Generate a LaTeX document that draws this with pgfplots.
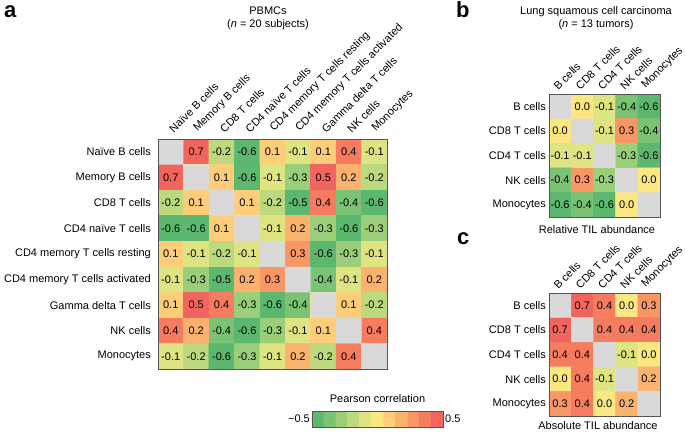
\documentclass[border=0pt]{standalone}
\usepackage{pgfplots}
\pgfplotsset{compat=1.18}
\usepackage{pgfplotstable}
\usepackage{fontspec}
\setmainfont{Liberation Sans}

\definecolor{framegray}{RGB}{85,85,85}
\definecolor{diaggray}{RGB}{217,217,217}
\newcommand\lab{\fontsize{11}{13}\selectfont}
\newcommand\panel{\fontsize{22}{22}\selectfont\bfseries}

\pgfplotsset{
  colormap={corr}{rgb255=(92,184,110) rgb255=(122,195,116) rgb255=(155,206,121)
    rgb255=(188,217,126) rgb255=(222,228,130) rgb255=(253,231,130) rgb255=(253,205,121)
    rgb255=(251,178,110) rgb255=(249,150,101) rgb255=(246,124,96) rgb255=(242,101,94)},
  heat/.style={
    scale only axis, axis on top, enlargelimits=false,
    colormap name=corr, point meta min=-0.5, point meta max=0.5,
    axis line style={framegray, line width=0.9pt},
    major tick length=0pt, tick style={draw=none},
    xticklabel pos=upper,
    tick label style={font=\lab},
    x tick label style={rotate=45, anchor=south west, inner sep=0pt},
    y tick label style={anchor=east, inner sep=0pt},
  },
  heatcells/.style={matrix plot*, mesh/cols=#1, point meta=explicit},
  celltext/.style={draw=none, mark=none, forget plot,
    point meta=explicit symbolic, nodes near coords,
    nodes near coords style={anchor=center, font=\lab, inner sep=0pt}},
}

% PBMCs, row 1 (Naive B cells) at y=9
\pgfplotstableread[row sep=\\]{
x y c l\\
1 9 0 {}\\ 2 9 0.7 0.7\\ 3 9 -0.2 -0.2\\ 4 9 -0.6 -0.6\\ 5 9 0.1 0.1\\ 6 9 -0.1 -0.1\\ 7 9 0.1 0.1\\ 8 9 0.4 0.4\\ 9 9 -0.1 -0.1\\
1 8 0.7 0.7\\ 2 8 0 {}\\ 3 8 0.1 0.1\\ 4 8 -0.6 -0.6\\ 5 8 -0.1 -0.1\\ 6 8 -0.3 -0.3\\ 7 8 0.5 0.5\\ 8 8 0.2 0.2\\ 9 8 -0.2 -0.2\\
1 7 -0.2 -0.2\\ 2 7 0.1 0.1\\ 3 7 0 {}\\ 4 7 0.1 0.1\\ 5 7 -0.2 -0.2\\ 6 7 -0.5 -0.5\\ 7 7 0.4 0.4\\ 8 7 -0.4 -0.4\\ 9 7 -0.6 -0.6\\
1 6 -0.6 -0.6\\ 2 6 -0.6 -0.6\\ 3 6 0.1 0.1\\ 4 6 0 {}\\ 5 6 -0.1 -0.1\\ 6 6 0.2 0.2\\ 7 6 -0.3 -0.3\\ 8 6 -0.6 -0.6\\ 9 6 -0.3 -0.3\\
1 5 0.1 0.1\\ 2 5 -0.1 -0.1\\ 3 5 -0.2 -0.2\\ 4 5 -0.1 -0.1\\ 5 5 0 {}\\ 6 5 0.3 0.3\\ 7 5 -0.6 -0.6\\ 8 5 -0.3 -0.3\\ 9 5 -0.1 -0.1\\
1 4 -0.1 -0.1\\ 2 4 -0.3 -0.3\\ 3 4 -0.5 -0.5\\ 4 4 0.2 0.2\\ 5 4 0.3 0.3\\ 6 4 0 {}\\ 7 4 -0.4 -0.4\\ 8 4 -0.1 -0.1\\ 9 4 0.2 0.2\\
1 3 0.1 0.1\\ 2 3 0.5 0.5\\ 3 3 0.4 0.4\\ 4 3 -0.3 -0.3\\ 5 3 -0.6 -0.6\\ 6 3 -0.4 -0.4\\ 7 3 0 {}\\ 8 3 0.1 0.1\\ 9 3 -0.2 -0.2\\
1 2 0.4 0.4\\ 2 2 0.2 0.2\\ 3 2 -0.4 -0.4\\ 4 2 -0.6 -0.6\\ 5 2 -0.3 -0.3\\ 6 2 -0.1 -0.1\\ 7 2 0.1 0.1\\ 8 2 0 {}\\ 9 2 0.4 0.4\\
1 1 -0.1 -0.1\\ 2 1 -0.2 -0.2\\ 3 1 -0.6 -0.6\\ 4 1 -0.3 -0.3\\ 5 1 -0.1 -0.1\\ 6 1 0.2 0.2\\ 7 1 -0.2 -0.2\\ 8 1 0.4 0.4\\ 9 1 0 {}\\
}\pbmc

% lung SCC, relative TIL abundance
\pgfplotstableread[row sep=\\]{
x y c l\\
1 5 0 {}\\ 2 5 0.0 0.0\\ 3 5 -0.1 -0.1\\ 4 5 -0.4 -0.4\\ 5 5 -0.6 -0.6\\
1 4 0.0 0.0\\ 2 4 0 {}\\ 3 4 -0.1 -0.1\\ 4 4 0.3 0.3\\ 5 4 -0.4 -0.4\\
1 3 -0.1 -0.1\\ 2 3 -0.1 -0.1\\ 3 3 0 {}\\ 4 3 -0.3 -0.3\\ 5 3 -0.6 -0.6\\
1 2 -0.4 -0.4\\ 2 2 0.3 0.3\\ 3 2 -0.3 -0.3\\ 4 2 0 {}\\ 5 2 0.0 0.0\\
1 1 -0.6 -0.6\\ 2 1 -0.4 -0.4\\ 3 1 -0.6 -0.6\\ 4 1 0.0 0.0\\ 5 1 0 {}\\
}\relTIL

% lung SCC, absolute TIL abundance
\pgfplotstableread[row sep=\\]{
x y c l\\
1 5 0 {}\\ 2 5 0.7 0.7\\ 3 5 0.4 0.4\\ 4 5 0.0 0.0\\ 5 5 0.3 0.3\\
1 4 0.7 0.7\\ 2 4 0 {}\\ 3 4 0.4 0.4\\ 4 4 0.4 0.4\\ 5 4 0.4 0.4\\
1 3 0.4 0.4\\ 2 3 0.4 0.4\\ 3 3 0 {}\\ 4 3 -0.1 -0.1\\ 5 3 0.0 0.0\\
1 2 0.0 0.0\\ 2 2 0.4 0.4\\ 3 2 -0.1 -0.1\\ 4 2 0 {}\\ 5 2 0.2 0.2\\
1 1 0.3 0.3\\ 2 1 0.4 0.4\\ 3 1 0.0 0.0\\ 4 1 0.2 0.2\\ 5 1 0 {}\\
}\absTIL

% colour key: eleven steps from -0.5 to 0.5 (two rows so the cells have a height)
\pgfplotstableread[row sep=\\]{
x y c\\
1 1 -0.5\\ 2 1 -0.4\\ 3 1 -0.3\\ 4 1 -0.2\\ 5 1 -0.1\\ 6 1 0.0\\ 7 1 0.1\\ 8 1 0.2\\ 9 1 0.3\\ 10 1 0.4\\ 11 1 0.5\\
1 2 -0.5\\ 2 2 -0.4\\ 3 2 -0.3\\ 4 2 -0.2\\ 5 2 -0.1\\ 6 2 0.0\\ 7 2 0.1\\ 8 2 0.2\\ 9 2 0.3\\ 10 2 0.4\\ 11 2 0.5\\
}\key

\begin{document}
\begin{tikzpicture}
\useasboundingbox (0,0) rectangle (685pt,-432pt);

% ---- a: PBMCs
\begin{axis}[heat, at={(158pt,-369pt)}, anchor=south west,
  width=229pt, height=230pt,
  xmin=0.5, xmax=9.5, ymin=0.5, ymax=9.5,
  xtick={1,...,9}, ytick={1,...,9},
  xticklabels={Naïve B cells, Memory B cells, CD8 T cells, CD4 naïve T cells,
    CD4 memory T cells resting, CD4 memory T cells activated, Gamma delta T cells,
    NK cells, Monocytes},
  yticklabels={Monocytes, NK cells, Gamma delta T cells, CD4 memory T cells activated,
    CD4 memory T cells resting, CD4 naïve T cells, CD8 T cells, Memory B cells,
    Naïve B cells},
  x tick label style={xshift=6pt, yshift=1.5pt},
  y tick label style={xshift=-7pt},
]
\addplot[heatcells=9] table[x=x, y=y, meta=c] {\pbmc};
% diagonal (self-correlation) cells in grey
\addplot[fill=diaggray, draw=none, forget plot] coordinates {
  (0.5,9.5) (1.5,9.5) (1.5,8.5) (2.5,8.5) (2.5,7.5) (3.5,7.5) (3.5,6.5) (4.5,6.5)
  (4.5,5.5) (5.5,5.5) (5.5,4.5) (6.5,4.5) (6.5,3.5) (7.5,3.5) (7.5,2.5) (8.5,2.5)
  (8.5,1.5) (9.5,1.5) (9.5,0.5) (8.5,0.5) (8.5,1.5) (7.5,1.5) (7.5,2.5) (6.5,2.5)
  (6.5,3.5) (5.5,3.5) (5.5,4.5) (4.5,4.5) (4.5,5.5) (3.5,5.5) (3.5,6.5) (2.5,6.5)
  (2.5,7.5) (1.5,7.5) (1.5,8.5) (0.5,8.5) (0.5,9.5)};
\addplot[celltext] table[x=x, y=y, meta=l] {\pbmc};
\end{axis}

% ---- colour key
\begin{axis}[heat, at={(312pt,-427pt)}, anchor=south west,
  width=131pt, height=16pt,
  xmin=0.5, xmax=11.5, ymin=0.5, ymax=2.5,
  xtick=\empty, ytick=\empty,
  axis line style={framegray, line width=0.7pt},
  title={Pearson correlation},
  title style={font=\lab, at={(0.5,1)}, anchor=base, yshift=2.5pt},
  extra description/.code={
    \node[anchor=east, font=\lab, inner sep=2pt] at (rel axis cs:0,0.5) {−0.5};
    \node[anchor=west, font=\lab, inner sep=2pt] at (rel axis cs:1,0.5) {0.5};
  },
]
\addplot[heatcells=11] table[x=x, y=y, meta=c] {\key};
\end{axis}

% ---- b: relative TIL abundance
\begin{axis}[heat, at={(549pt,-217pt)}, anchor=south west,
  width=111pt, height=123pt,
  xmin=0.5, xmax=5.5, ymin=0.5, ymax=5.5,
  xtick={1,...,5}, ytick={1,...,5},
  xticklabels={B cells, CD8 T cells, CD4 T cells, NK cells, Monocytes},
  yticklabels={Monocytes, NK cells, CD4 T cells, CD8 T cells, B cells},
  x tick label style={xshift=1pt, yshift=3.5pt},
  y tick label style={xshift=-3pt},
]
\addplot[heatcells=5] table[x=x, y=y, meta=c] {\relTIL};
\addplot[fill=diaggray, draw=none, forget plot] coordinates {
  (0.5,5.5) (1.5,5.5) (1.5,4.5) (2.5,4.5) (2.5,3.5) (3.5,3.5) (3.5,2.5) (4.5,2.5)
  (4.5,1.5) (5.5,1.5) (5.5,0.5) (4.5,0.5) (4.5,1.5) (3.5,1.5) (3.5,2.5) (2.5,2.5)
  (2.5,3.5) (1.5,3.5) (1.5,4.5) (0.5,4.5) (0.5,5.5)};
\addplot[celltext] table[x=x, y=y, meta=l] {\relTIL};
\end{axis}

% ---- c: absolute TIL abundance
\begin{axis}[heat, at={(549pt,-416pt)}, anchor=south west,
  width=111pt, height=123pt,
  xmin=0.5, xmax=5.5, ymin=0.5, ymax=5.5,
  xtick={1,...,5}, ytick={1,...,5},
  xticklabels={B cells, CD8 T cells, CD4 T cells, NK cells, Monocytes},
  yticklabels={Monocytes, NK cells, CD4 T cells, CD8 T cells, B cells},
  x tick label style={xshift=1pt, yshift=3.5pt},
  y tick label style={xshift=-3pt},
]
\addplot[heatcells=5] table[x=x, y=y, meta=c] {\absTIL};
\addplot[fill=diaggray, draw=none, forget plot] coordinates {
  (0.5,5.5) (1.5,5.5) (1.5,4.5) (2.5,4.5) (2.5,3.5) (3.5,3.5) (3.5,2.5) (4.5,2.5)
  (4.5,1.5) (5.5,1.5) (5.5,0.5) (4.5,0.5) (4.5,1.5) (3.5,1.5) (3.5,2.5) (2.5,2.5)
  (2.5,3.5) (1.5,3.5) (1.5,4.5) (0.5,4.5) (0.5,5.5)};
\addplot[celltext] table[x=x, y=y, meta=l] {\absTIL};
\end{axis}

% titles and panel letters
\node[font=\lab, align=center] at (268pt,-18.5pt) {PBMCs\\(\textit{n} = 20 subjects)};
\node[font=\lab, align=center] at (596pt,-18.5pt) {Lung squamous cell carcinoma\\(\textit{n} = 13 tumors)};
\node[font=\lab] at (597pt,-230pt) {Relative TIL abundance};
\node[font=\lab] at (598pt,-426pt) {Absolute TIL abundance};
\node[font=\panel, anchor=base west, inner sep=0pt] at (4pt,-17pt) {a};
\node[font=\panel, anchor=base west, inner sep=0pt] at (456pt,-17pt) {b};
\node[font=\panel, anchor=base west, inner sep=0pt] at (457pt,-244pt) {c};
\end{tikzpicture}
\end{document}
